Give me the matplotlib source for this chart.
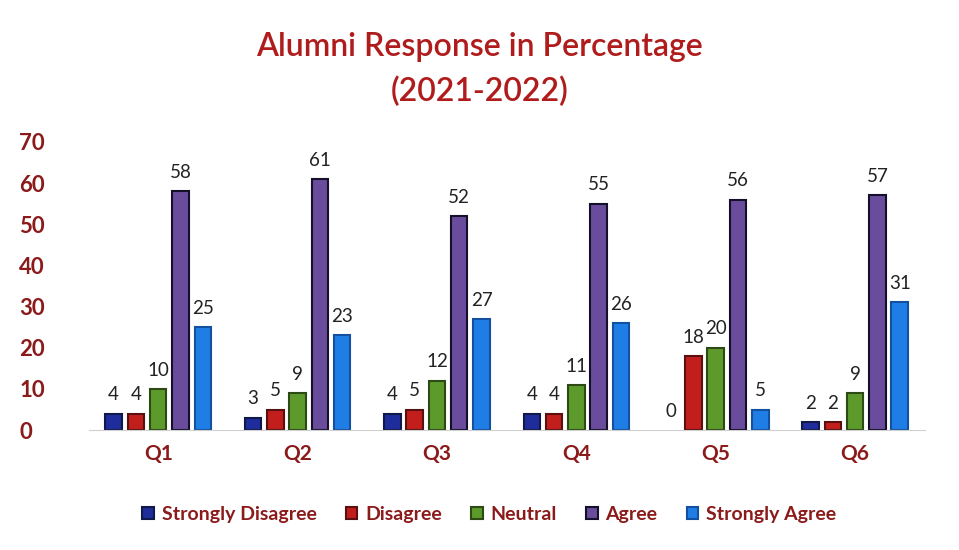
import matplotlib
matplotlib.use("Agg")
import matplotlib.pyplot as plt
import numpy as np

plt.rcParams['font.family'] = ['Lato', 'DejaVu Sans']

questions = ["Q1", "Q2", "Q3", "Q4", "Q5", "Q6"]
series_names = ["Strongly Disagree", "Disagree", "Neutral", "Agree", "Strongly Agree"]
strongly_disagree = [4, 3, 4, 4, 0, 2]
disagree = [4, 5, 5, 4, 18, 2]
neutral = [10, 9, 12, 11, 20, 9]
agree = [58, 61, 52, 55, 56, 57]
strongly_agree = [25, 23, 27, 26, 5, 31]
yticks = [0, 10, 20, 30, 40, 50, 60, 70]

series = [strongly_disagree, disagree, neutral, agree, strongly_agree]
colors = ["#1f2c9c", "#c21f1c", "#5d9a2c", "#6a4c9c", "#1f7ee6"]
edges = ["#101848", "#5a1010", "#2e4a14", "#15102a", "#1450a0"]

fig = plt.figure(figsize=(9.59, 5.5), dpi=100)
ax = fig.add_axes([0.0923, 0.218, 0.872, 0.524])

x = np.arange(len(questions))
w = 0.118
step = 0.16
for i, (vals, c, ec, name) in enumerate(zip(series, colors, edges, series_names)):
    pos = x + (i - 2) * step
    lws = [1.5 if v > 0 else 0 for v in vals]
    ax.bar(pos, vals, width=w, color=c, edgecolor=ec, linewidth=lws, label=name)
    for p, v in zip(pos, vals):
        ax.text(p, v + 2.5, str(v), ha='center', va='bottom', fontsize=13.5, color='#222222')

ax.set_xlim(-0.5, len(questions) - 0.5)
ax.set_ylim(0, 70)
ax.set_yticks(yticks)
ax.set_yticklabels([str(t) for t in yticks], fontsize=16, fontweight='bold', color='#8b1a1a')
ax.set_xticks(x)
ax.set_xticklabels(questions, fontsize=15, fontweight='bold', color='#8b1a1a')
ax.tick_params(axis='x', length=0, pad=10)
ax.tick_params(axis='y', length=0, pad=50)
for t in ax.get_yticklabels():
    t.set_horizontalalignment('left')
for s in ['top', 'right', 'left']:
    ax.spines[s].set_visible(False)
ax.spines['bottom'].set_color('#d0d0d0')

fig.text(0.5, 0.915, "Alumni Response in Percentage", ha='center', va='center',
         fontsize=23, color='#b01c1c', fontweight='semibold')
fig.text(0.5, 0.833, "(2021-2022)", ha='center', va='center',
         fontsize=23, color='#b01c1c', fontweight='semibold')

leg = fig.legend(loc='center', bbox_to_anchor=(0.51, 0.065), ncol=5, frameon=False,
                 fontsize=14, handlelength=0.6, handleheight=0.6, columnspacing=1.5,
                 handletextpad=0.4)
for t in leg.get_texts():
    t.set_color('#8b1a1a')
    t.set_fontweight('bold')

fig.savefig("out.png", dpi=100)
